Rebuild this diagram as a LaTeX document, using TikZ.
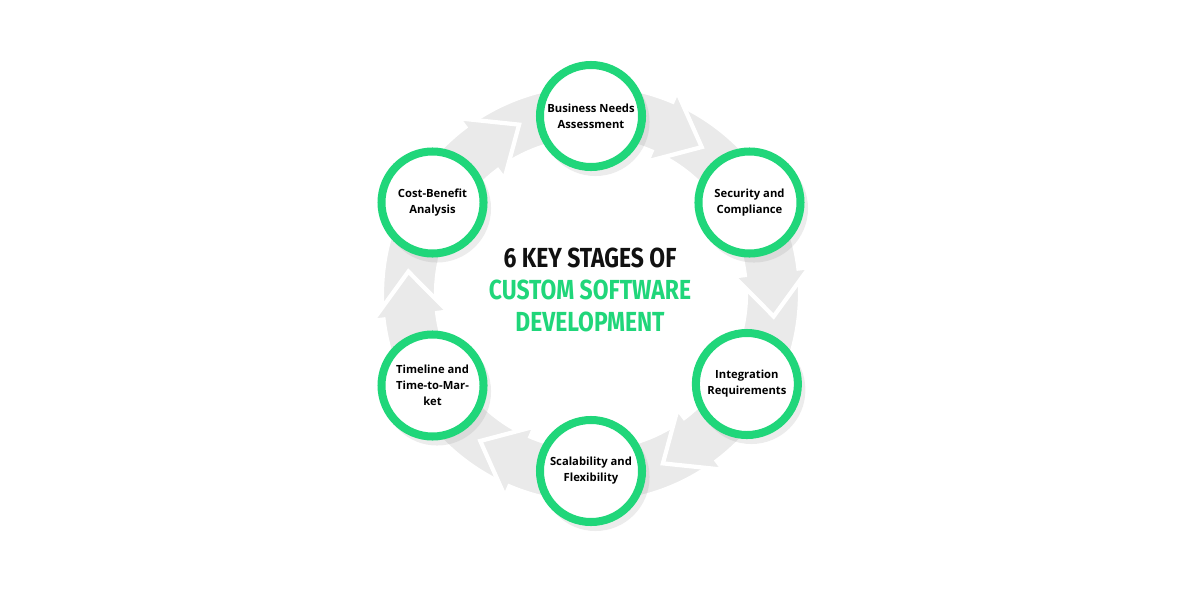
\documentclass[tikz,border=0pt]{standalone}
\usepackage{fontspec}
\usepackage{xcolor}
\usepackage{tikz}
\usetikzlibrary{shadows}
\setmainfont{Open Sans}
\newfontfamily\stagefont{Open Sans}
\newfontfamily\titlefont{Fira Sans}[FakeStretch=0.83]
\definecolor{stagegreen}{RGB}{32,214,122}
\definecolor{ringgray}{RGB}{234,234,234}
\definecolor{titleblack}{RGB}{17,17,17}
\tikzset{
  stage/.style={circle, draw=stagegreen, line width=5.7pt, fill=white, minimum size=2.55cm,
                inner sep=0pt, align=center, text=black,
                font=\stagefont\bfseries\fontsize{8}{11.4}\selectfont,
                drop shadow={shadow scale=1.06, shadow xshift=3pt, shadow yshift=-4pt, opacity=0.15}},
  ringpart/.style={fill=ringgray, draw=white, line width=3pt, line join=miter},
  heading/.style={align=center, font=\titlefont\bfseries\fontsize{19.6}{22.8}\selectfont},
}

\begin{document}
\begin{tikzpicture}[x=0.025cm, y=0.025cm]
\useasboundingbox (-591,-306) rectangle (609,294);

% ring of arrows, tails first then heads
\foreach \m in {60,0,-60,-120,-180,-240} {
  \path[ringpart] ({\m+5}:155) arc[start angle=\m+5, end angle=\m-30, radius=155]
    -- ({\m-30}:209) arc[start angle=\m-30, end angle=\m+5, radius=209] -- cycle;
}
\foreach \m in {60,0,-60,-120,-180,-240} {
  \path[ringpart] ({\m+30}:155) arc[start angle=\m+30, end angle=\m+7, radius=155]
    -- ({\m+7}:144) -- ({\m-7}:184) -- ({\m+7}:220)
    -- ({\m+7}:209) arc[start angle=\m+7, end angle=\m+30, radius=209] -- cycle;
}

% stages
\node[stage] (bizneeds)    at (90:178)  {Business Needs\\Assessment};
\node[stage] (security)    at (30:183)  {Security and\\Compliance};
\node[stage] (integration) at (-30:180) {Integration\\Requirements};
\node[stage] (scalability) at (-90:177) {Scalability and\\Flexibility};
\node[stage] (timeline)    at (210:183) {Timeline and\\Time-to-Mar-\\ket};
\node[stage] (costbenefit) at (150:183) {Cost-Benefit\\Analysis};

% title
\node[heading] (title) at (-1,4) {\textcolor{titleblack}{6 KEY STAGES OF}\\
  \textcolor{stagegreen}{CUSTOM SOFTWARE}\\\textcolor{stagegreen}{DEVELOPMENT}};
\end{tikzpicture}
\end{document}
